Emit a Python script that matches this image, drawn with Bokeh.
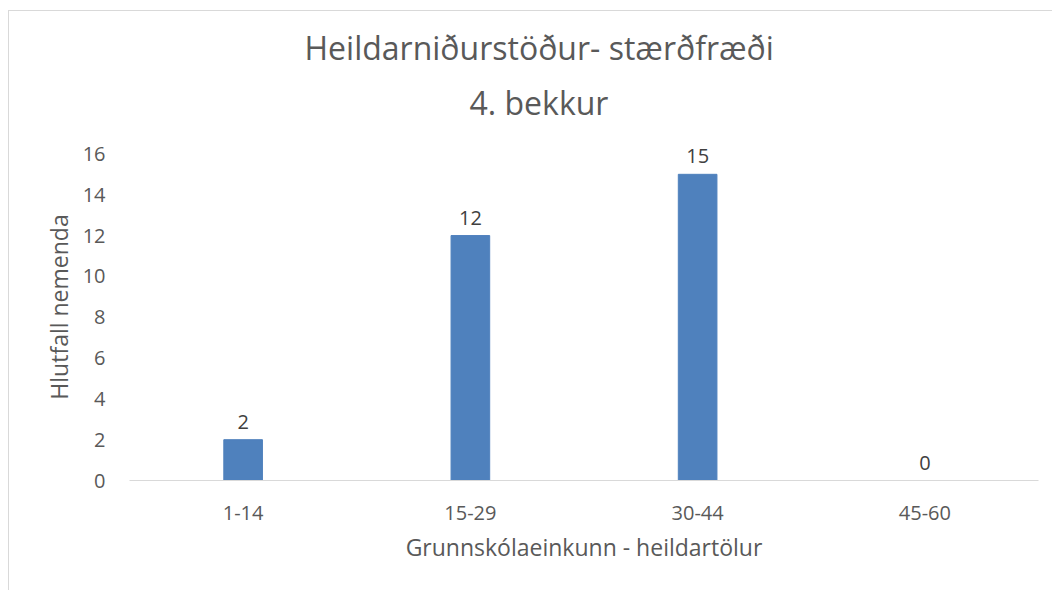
from bokeh.plotting import figure
from bokeh.models import FactorRange, Range1d, ColumnDataSource, FixedTicker, Title
from bokeh.core.properties import value
from bokeh.embed import file_html
from bokeh.resources import INLINE

categories = ["1-14", "15-29", "30-44", "45-60"]
counts = [2, 12, 15, 0]
y_ticks = [0, 2, 4, 6, 8, 10, 12, 14, 16]
title_line1 = "Heildarniðurstöður- stærðfræði"
title_line2 = "4. bekkur"

FONT = "Open Sans"
TXT = "#595959"

src = ColumnDataSource(dict(cat=categories, val=counts, lbl=[str(v) for v in counts]))

p = figure(
    x_range=FactorRange(*categories, range_padding=0),
    y_range=Range1d(0, 17),
    width=1044, height=580,
    output_backend="svg", toolbar_location=None,
    min_border_left=120, min_border_right=15,
    min_border_top=122, min_border_bottom=111,
)
p.margin = (10, 0, 0, 8)
p.styles = {"border-left": "1px solid #D9D9D9", "border-top": "1px solid #D9D9D9"}
p.outline_line_color = None
p.background_fill_color = "white"
p.border_fill_color = "white"

p.vbar(x="cat", top="val", width=0.17, source=src,
       fill_color="#4F81BD", line_color="#4F81BD")
p.text(x="cat", y="val", text="lbl", source=src, y_offset=-18,
       text_align="center", text_baseline="alphabetic",
       text_font=value(FONT), text_font_size="20px", text_color="#404040")

p.title.visible = False
t2 = Title(text=title_line2, align="left", text_font=FONT, text_font_size="32px",
           text_font_style="normal", text_color=TXT, offset=340,
           padding=dict(left=0, right=0, top=0, bottom=5))
t1 = Title(text=title_line1, align="left", text_font=FONT, text_font_size="32px",
           text_font_style="normal", text_color=TXT, offset=175)
p.add_layout(t2, "above")
p.add_layout(t1, "above")

p.xgrid.grid_line_color = None
p.ygrid.grid_line_color = None

p.xaxis.axis_line_color = "#D9D9D9"
p.xaxis.axis_line_width = 1
p.xaxis.major_tick_line_color = None
p.xaxis.minor_tick_line_color = None
p.xaxis.major_label_text_font = FONT
p.xaxis.major_label_text_font_size = "20px"
p.xaxis.major_label_text_color = TXT
p.xaxis.major_label_standoff = 19
p.xaxis.axis_label = "Grunnskólaeinkunn - heildartölur"
p.xaxis.axis_label_text_font = FONT
p.xaxis.axis_label_text_font_size = "23px"
p.xaxis.axis_label_text_font_style = "normal"
p.xaxis.axis_label_text_color = TXT
p.xaxis.axis_label_standoff = 8

p.yaxis.ticker = FixedTicker(ticks=y_ticks)
p.yaxis.axis_line_color = None
p.yaxis.major_tick_line_color = None
p.yaxis.minor_tick_line_color = None
p.yaxis.major_label_text_font = FONT
p.yaxis.major_label_text_font_size = "20px"
p.yaxis.major_label_text_color = TXT
p.yaxis.major_label_standoff = 18
p.yaxis.axis_label = "Hlutfall nemenda"
p.yaxis.axis_label_text_font = FONT
p.yaxis.axis_label_text_font_size = "23px"
p.yaxis.axis_label_text_font_style = "normal"
p.yaxis.axis_label_text_color = TXT
p.yaxis.axis_label_standoff = 5

open("out.html", "w").write(file_html(p, INLINE))
